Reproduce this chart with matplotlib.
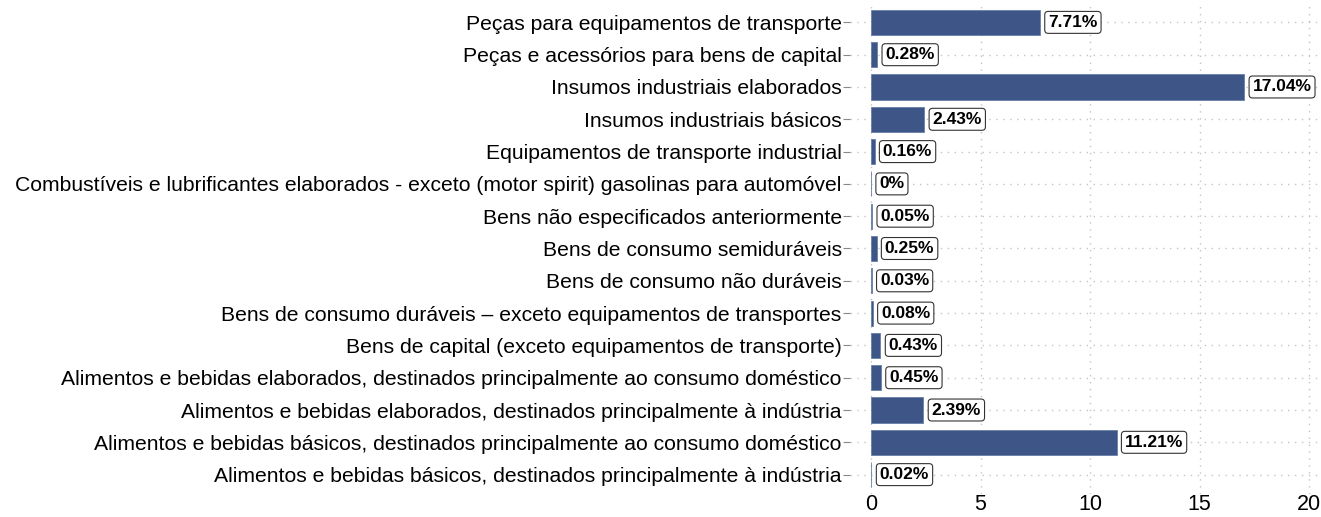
import numpy as np
import matplotlib.pyplot as plt

plt.rcParams['font.family'] = ['Liberation Sans', 'DejaVu Sans']

# categories listed bottom to top
categories = [
    "Alimentos e bebidas básicos, destinados principalmente à indústria",
    "Alimentos e bebidas básicos, destinados principalmente ao consumo doméstico",
    "Alimentos e bebidas elaborados, destinados principalmente à indústria",
    "Alimentos e bebidas elaborados, destinados principalmente ao consumo doméstico",
    "Bens de capital (exceto equipamentos de transporte)",
    "Bens de consumo duráveis – exceto equipamentos de transportes",
    "Bens de consumo não duráveis",
    "Bens de consumo semiduráveis",
    "Bens não especificados anteriormente",
    "Combustíveis e lubrificantes elaborados - exceto (motor spirit) gasolinas para automóvel",
    "Equipamentos de transporte industrial",
    "Insumos industriais básicos",
    "Insumos industriais elaborados",
    "Peças e acessórios para bens de capital",
    "Peças para equipamentos de transporte",
]
values = [0.02, 11.21, 2.39, 0.45, 0.43, 0.08, 0.03, 0.25, 0.05, 0.0, 0.16, 2.43, 17.04, 0.28, 7.71]
labels = ["0.02%", "11.21%", "2.39%", "0.45%", "0.43%", "0.08%", "0.03%", "0.25%",
          "0.05%", "0%", "0.16%", "2.43%", "17.04%", "0.28%", "7.71%"]
x_ticks = [0, 5, 10, 15, 20]

fig = plt.figure(figsize=(13.21, 5.17), dpi=100)
ax = fig.add_axes([850 / 1321, 1 - 494 / 517, 470 / 1321, 491 / 517])

y = np.arange(len(categories))
ax.barh(y, values, height=0.78, color="#3e5687", edgecolor="#6a7fa8", linewidth=0.6, zorder=2)

for yi, v, lab in zip(y, values, labels):
    ax.annotate(lab, xy=(v, yi), xytext=(6, 0), textcoords="offset points",
                ha="left", va="center", fontsize=12.5, fontweight="bold", color="black",
                bbox=dict(boxstyle="round,pad=0.2,rounding_size=0.2", fc="white",
                          ec="#333333", lw=0.8), zorder=3)

ax.set_yticks(y)
ax.set_yticklabels(categories, fontsize=15.2)
ax.set_xticks(x_ticks)
ax.set_xticklabels([str(t) for t in x_ticks], fontsize=15.5)
ax.set_xlim(-0.96, 20.5)
ax.set_ylim(-0.6, len(categories) - 0.4)

ax.grid(True, linestyle=(0, (1, 4)), color="#c4c4c4", linewidth=1.0, zorder=0)
ax.set_axisbelow(True)
for s in ax.spines.values():
    s.set_visible(False)
ax.tick_params(axis="y", length=5, color="#888888", pad=1)
ax.tick_params(axis="x", length=0, pad=0)

fig.savefig("out.png", dpi=100)
